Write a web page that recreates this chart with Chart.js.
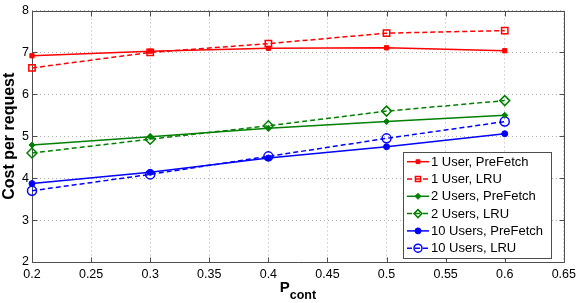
<!DOCTYPE html>
<html><head><meta charset="utf-8">
<script src="https://cdn.jsdelivr.net/npm/chart.js@4/dist/chart.umd.min.js"></script>
<style>html,body{margin:0;padding:0;background:#fff}#wrap{width:581px;height:303px}</style>
</head><body><div id="wrap"><canvas id="c" width="581" height="303"></canvas></div>
<script>
const xValues = [0.2, 0.3, 0.4, 0.5, 0.6];
const user1PreFetch = [6.92, 7.03, 7.10, 7.11, 7.04];
const user1LRU = [6.63, 7.00, 7.21, 7.46, 7.52];
const users2PreFetch = [4.79, 4.99, 5.19, 5.35, 5.50];
const users2LRU = [4.60, 4.93, 5.25, 5.60, 5.85];
const users10PreFetch = [3.87, 4.14, 4.48, 4.75, 5.06];
const users10LRU = [3.70, 4.09, 4.52, 4.95, 5.35];
const xTicks = [0.2, 0.25, 0.3, 0.35, 0.4, 0.45, 0.5, 0.55, 0.6, 0.65];
const yTicks = [2, 3, 4, 5, 6, 7, 8];
const seriesNames = ['1 User, PreFetch','1 User, LRU','2 Users, PreFetch','2 Users, LRU','10 Users, PreFetch','10 Users, LRU'];

const FONT = "'Liberation Sans', Arial, Helvetica, sans-serif";
const RED = '#ff0000', GREEN = '#008000', BLUE = '#0000ff';
const DASH = [5, 3];

function mk(label, vals, color, dashed, style, r, filled) {
  return {
    label, data: vals.map((v, i) => ({x: xValues[i], y: v})),
    borderColor: color, backgroundColor: filled ? color : 'rgba(255,255,255,0)',
    borderWidth: 1.5, borderDash: dashed ? DASH : [],
    pointStyle: style, pointRadius: r, pointHoverRadius: r,
    pointBorderColor: color, pointBackgroundColor: filled ? color : 'rgba(255,255,255,0)',
    pointBorderWidth: filled ? 1 : 1.5, tension: 0, clip: false, fill: false
  };
}
const datasets = [
  mk(seriesNames[0], user1PreFetch, RED, false, 'rect', 3, true),
  mk(seriesNames[1], user1LRU, RED, true, 'rect', 4.5, false),
  mk(seriesNames[2], users2PreFetch, GREEN, false, 'rectRot', 3, true),
  mk(seriesNames[3], users2LRU, GREEN, true, 'rectRot', 5, false),
  mk(seriesNames[4], users10PreFetch, BLUE, false, 'circle', 3, true),
  mk(seriesNames[5], users10LRU, BLUE, true, 'circle', 4.5, false)
];

function drawMarker(ctx, ds, x, y) {
  const r = ds.pointRadius;
  ctx.save();
  ctx.setLineDash([]);
  ctx.lineWidth = ds.pointBorderWidth;
  ctx.strokeStyle = ds.pointBorderColor;
  ctx.fillStyle = ds.pointBackgroundColor;
  ctx.beginPath();
  if (ds.pointStyle === 'rect') {
    const s = r * Math.SQRT1_2 * 2 * 0.9;
    ctx.rect(x - s/2, y - s/2, s, s);
  } else if (ds.pointStyle === 'rectRot') {
    ctx.moveTo(x, y - r); ctx.lineTo(x + r, y); ctx.lineTo(x, y + r); ctx.lineTo(x - r, y); ctx.closePath();
  } else {
    ctx.arc(x, y, r, 0, Math.PI * 2);
  }
  ctx.fill(); ctx.stroke();
  ctx.restore();
}

const framePlugin = {
  id: 'frame',
  beforeDatasetsDraw(chart) {
    const {ctx, chartArea: a, scales} = chart;
    ctx.save();
    ctx.strokeStyle = '#4d4d4d';
    ctx.lineWidth = 1;
    ctx.setLineDash([]);
    ctx.beginPath();
    const L = Math.round(a.left) + 0.5, R = Math.round(a.right) + 0.5, T = Math.round(a.top) + 0.5, B = Math.round(a.bottom) + 0.5;
    ctx.rect(L, T, R - L, B - T);
    const tl = 5;
    xTicks.forEach(v => {
      const px = Math.round(scales.x.getPixelForValue(v)) + 0.5;
      ctx.moveTo(px, B); ctx.lineTo(px, B - tl);
      ctx.moveTo(px, T); ctx.lineTo(px, T + tl);
    });
    yTicks.forEach(v => {
      const py = Math.round(scales.y.getPixelForValue(v)) + 0.5;
      ctx.moveTo(L, py); ctx.lineTo(L + tl, py);
      ctx.moveTo(R, py); ctx.lineTo(R - tl, py);
    });
    ctx.stroke();
    ctx.restore();
  },
  afterDraw(chart) {
    const {ctx, chartArea: a} = chart;
    ctx.save();
    // y title
    ctx.fillStyle = '#000';
    ctx.font = "bold 16px " + FONT;
    ctx.textAlign = 'center'; ctx.textBaseline = 'middle';
    ctx.translate(10, (a.top + a.bottom) / 2);
    ctx.rotate(-Math.PI / 2);
    ctx.fillText('Cost per request', 0, 0);
    ctx.restore();
    // x title with subscript
    ctx.save();
    ctx.fillStyle = '#000';
    ctx.textBaseline = 'alphabetic'; ctx.textAlign = 'left';
    ctx.font = "bold 15px " + FONT;
    const pw = ctx.measureText('P').width;
    ctx.font = "bold 12.5px " + FONT;
    const sw = ctx.measureText('cont').width;
    const x0 = (a.left + a.right) / 2 - (pw + sw) / 2;
    ctx.font = "bold 15px " + FONT;
    ctx.fillText('P', x0, 292);
    ctx.font = "bold 12.5px " + FONT;
    ctx.fillText('cont', x0 + pw, 299);
    ctx.restore();
    // legend
    ctx.save();
    const bx = 403.5, by = 152.5, bw = 148, bh = 106;
    ctx.fillStyle = '#fff';
    ctx.fillRect(bx, by, bw, bh);
    ctx.strokeStyle = '#4d4d4d'; ctx.lineWidth = 1; ctx.setLineDash([]);
    ctx.strokeRect(bx, by, bw, bh);
    ctx.font = "13px " + FONT;
    ctx.textBaseline = 'middle'; ctx.textAlign = 'left';
    datasets.forEach((ds, i) => {
      const y = 161.7 + i * 17.3;
      ctx.save();
      ctx.strokeStyle = ds.borderColor; ctx.lineWidth = 1.5;
      ctx.setLineDash(ds.borderDash);
      ctx.beginPath(); ctx.moveTo(407, y); ctx.lineTo(429, y); ctx.stroke();
      ctx.restore();
      const mds = Object.assign({}, ds, {pointRadius: Math.min(ds.pointRadius, 4)});
      drawMarker(ctx, mds, 418, y);
      ctx.fillStyle = '#000';
      ctx.fillText(ds.label, 431, y + 0.5);
    });
    ctx.restore();
  }
};

new Chart(document.getElementById('c'), {
  type: 'line',
  data: {datasets},
  plugins: [framePlugin],
  options: {
    responsive: false, animation: false, devicePixelRatio: 1,
    layout: {padding: {top: 5, right: 16, left: 0, bottom: 0}},
    plugins: {legend: {display: false}, tooltip: {enabled: false}},
    scales: {
      x: {
        type: 'linear', min: 0.2, max: 0.65,
        afterBuildTicks: s => { s.ticks = xTicks.map(v => ({value: v})); },
        afterFit: s => { s.height = 41; },
        ticks: {color: '#000', font: {family: FONT, size: 12.5}, padding: 5, maxRotation: 0, autoSkip: false,
          callback: v => String(Math.round(v * 100) / 100)},
        grid: {color: '#b0b0b0', lineWidth: 1, drawTicks: false},
        border: {display: false, dash: [1, 3]}
      },
      y: {
        type: 'linear', min: 2, max: 8,
        afterBuildTicks: s => { s.ticks = yTicks.map(v => ({value: v})); },
        afterFit: s => { s.width = 32; },
        ticks: {color: '#000', font: {family: FONT, size: 12.5}, padding: 3, autoSkip: false,
          callback: v => String(v)},
        grid: {color: '#b0b0b0', lineWidth: 1, drawTicks: false},
        border: {display: false, dash: [1, 3]}
      }
    }
  }
});
</script></body></html>
